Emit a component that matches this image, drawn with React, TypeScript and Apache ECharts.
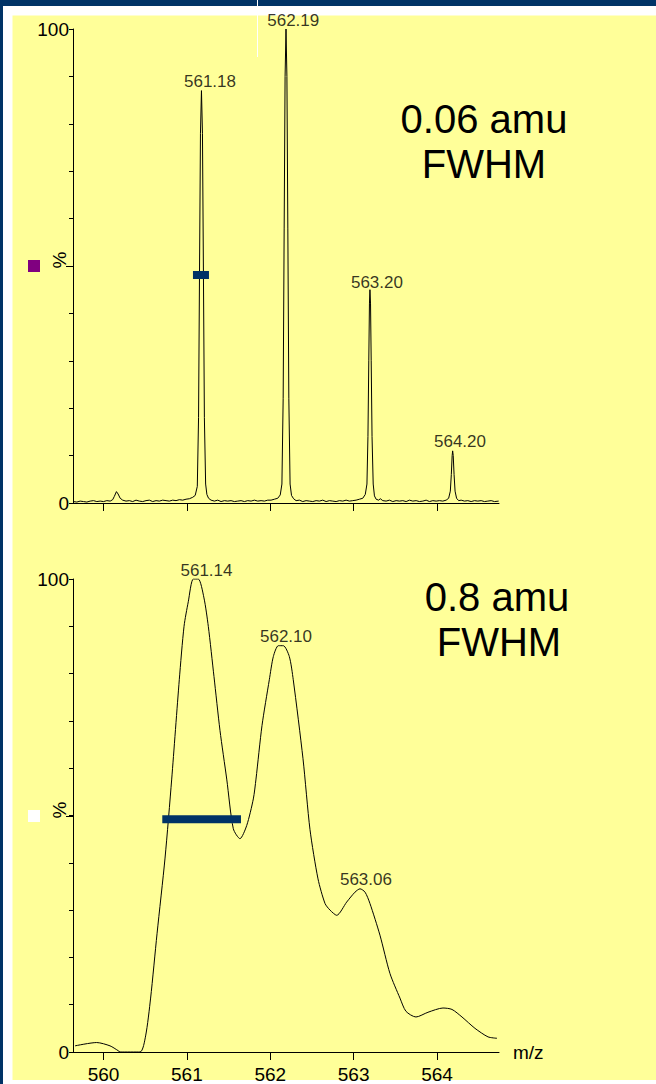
import React, { useEffect, useRef } from "react";
import * as echarts from "echarts";

// ---------- data ----------
const X_MIN = 559.634;
const X_MAX = 564.744;
const xTicks = [560, 561, 562, 563, 564];
const yLabelValues = [0, 100];

// high resolution spectrum (m/z, %)
const topSpectrum: [number, number][] = [
  [559.64, 0.3], [559.68, 0.2], [559.72, 0.4], [559.76, 0.3], [559.8, 0.2], [559.84, 0.4], [559.88, 0.5],
  [559.92, 0.3], [559.96, 0.4], [560.0, 0.3], [560.04, 0.5], [560.08, 0.4], [560.11, 0.7], [560.13, 1.4],
  [560.155, 2.4], [560.175, 1.9], [560.2, 1.0], [560.23, 0.6], [560.27, 0.4], [560.31, 0.5], [560.35, 0.3],
  [560.39, 0.6], [560.43, 0.4], [560.47, 0.3], [560.51, 0.5], [560.55, 0.6], [560.59, 0.3], [560.63, 0.5],
  [560.67, 0.4], [560.71, 0.6], [560.75, 0.5], [560.79, 0.4], [560.83, 0.6], [560.87, 0.5], [560.91, 0.7],
  [560.95, 0.6], [560.99, 0.8], [561.03, 0.9], [561.07, 1.2], [561.1, 1.6], [561.125, 3.5], [561.14, 18],
  [561.152, 50], [561.163, 78], [561.175, 87], [561.187, 78], [561.198, 50], [561.21, 18], [561.225, 4],
  [561.24, 1.8], [561.26, 1.0], [561.29, 0.6], [561.33, 0.4], [561.37, 0.6], [561.41, 0.3], [561.45, 0.5],
  [561.49, 0.4], [561.53, 0.5], [561.57, 0.3], [561.61, 0.4], [561.65, 0.5], [561.69, 0.3], [561.73, 0.5],
  [561.77, 0.4], [561.81, 0.6], [561.85, 0.4], [561.89, 0.5], [561.93, 0.4], [561.97, 0.6], [562.01, 0.6],
  [562.05, 0.8], [562.09, 1.0], [562.12, 1.7], [562.14, 4], [562.155, 22], [562.167, 58], [562.178, 90],
  [562.189, 100], [562.2, 90], [562.211, 58], [562.223, 22], [562.238, 4], [562.255, 1.6], [562.28, 0.9],
  [562.31, 0.5], [562.35, 0.6], [562.39, 0.3], [562.43, 0.5], [562.47, 0.4], [562.51, 0.3], [562.55, 0.5],
  [562.59, 0.4], [562.63, 0.6], [562.67, 0.3], [562.71, 0.5], [562.75, 0.4], [562.79, 0.3], [562.83, 0.5],
  [562.87, 0.4], [562.91, 0.6], [562.95, 0.4], [562.99, 0.5], [563.03, 0.6], [563.07, 0.8], [563.11, 1.0],
  [563.14, 1.8], [563.16, 4], [563.172, 14], [563.182, 30], [563.19, 42], [563.196, 45], [563.203, 42],
  [563.211, 30], [563.221, 14], [563.235, 4], [563.25, 1.5], [563.27, 0.8], [563.3, 0.6], [563.32, 0.9],
  [563.35, 0.5], [563.39, 0.4], [563.43, 0.6], [563.47, 0.3], [563.51, 0.5], [563.55, 0.4], [563.59, 0.5],
  [563.63, 0.3], [563.67, 0.6], [563.71, 0.4], [563.75, 0.5], [563.79, 0.3], [563.83, 0.4], [563.87, 0.6],
  [563.91, 0.3], [563.95, 0.5], [563.99, 0.4], [564.03, 0.5], [564.07, 0.4], [564.11, 0.6], [564.14, 1.0],
  [564.16, 2.5], [564.172, 6], [564.182, 10], [564.188, 11], [564.195, 10], [564.205, 6], [564.217, 2.5],
  [564.235, 1.0], [564.26, 0.5], [564.29, 0.6], [564.33, 0.4], [564.37, 0.5], [564.41, 0.3], [564.45, 0.5],
  [564.49, 0.4], [564.53, 0.5], [564.57, 0.3], [564.61, 0.4], [564.65, 0.5], [564.69, 0.3], [564.74, 0.4],
];

// low resolution spectrum (m/z, %)
const bottomSpectrum: [number, number][] = [
  [559.658, 1.3], [559.918, 2.0], [560.078, 1.3], [560.174, 0.3], [560.198, 0], [560.438, 0],
  [560.505, 3.4], [560.565, 11.4], [560.642, 25], [560.738, 41], [560.818, 57.7], [560.909, 78.7],
  [560.966, 90], [561.017, 95.2], [561.077, 100], [561.137, 100], [561.205, 96], [561.257, 90],
  [561.325, 79.4], [561.397, 68], [561.478, 57.7], [561.557, 47.2], [561.637, 45.1], [561.718, 47.9],
  [561.797, 53.5], [561.829, 57.7], [561.901, 69], [561.989, 78.7], [562.037, 83.6], [562.097, 85.9],
  [562.157, 85.9], [562.229, 83.6], [562.276, 78.7], [562.393, 62], [562.477, 47], [562.573, 36.6],
  [562.657, 31.4], [562.717, 30], [562.797, 28.9], [562.917, 31.7], [563.017, 33.8], [563.077, 34.5],
  [563.137, 33.8], [563.196, 31.4], [563.316, 24.7], [563.436, 16.6], [563.556, 11.4], [563.628, 8.6],
  [563.748, 7.4], [563.892, 8.4], [564.072, 9.3], [564.18, 9.0], [564.3, 7.4], [564.456, 5.0],
  [564.612, 3.2], [564.72, 2.9],
];

const topPeakLabels = [
  { name: "561.18", value: [561.277, 89.0] },
  { name: "562.19", value: [562.276, 101.7] },
  { name: "563.20", value: [563.28, 46.6] },
  { name: "564.20", value: [564.276, 12.9] },
];
const bottomPeakLabels = [
  { name: "561.14", value: [561.235, 101.8] },
  { name: "562.10", value: [562.189, 87.9] },
  { name: "563.06", value: [563.148, 36.4] },
];

const topFwhmBar: [number, number][] = [[561.073, 48.1], [561.265, 48.1]];
const bottomFwhmBar: [number, number][] = [[560.705, 49.2], [561.649, 49.2]];

const topTitle = ["0.06 amu", "FWHM"];
const bottomTitle = ["0.8 amu", "FWHM"];
const xAxisName = "m/z";
const yAxisName = "%";

// ---------- styling ----------
const FONT = "'Liberation Sans', Arial, Helvetica, sans-serif";
const NAVY = "#003366";
const YELLOW = "#ffff99";

function xAxis(gridIndex: number, showLabels: boolean) {
  return {
    type: "value",
    gridIndex,
    min: X_MIN,
    max: X_MAX,
    axisLine: { show: true, onZero: false, lineStyle: { color: "#000", width: 1 } },
    axisTick: { show: true, length: 8, customValues: xTicks, lineStyle: { color: "#000", width: 1 } },
    axisLabel: showLabels
      ? { show: true, customValues: xTicks, fontSize: 19, fontFamily: FONT, color: "#000", margin: 13 }
      : { show: false },
    splitLine: { show: false },
    name: showLabels ? xAxisName : "",
    nameLocation: "end",
    nameGap: 14,
    nameTextStyle: { fontSize: 19, fontFamily: FONT, color: "#000", padding: [6, 0, 0, 0] },
  };
}

function yAxis(gridIndex: number) {
  return {
    type: "value",
    gridIndex,
    min: 0,
    max: 100,
    interval: 10,
    axisLine: { show: true, lineStyle: { color: "#000", width: 1 } },
    axisTick: { show: true, length: 4, lineStyle: { color: "#000", width: 1 } },
    axisLabel: {
      show: true,
      customValues: yLabelValues,
      formatter: (v: number) => (yLabelValues.indexOf(v) >= 0 ? String(v) : ""),
      fontSize: 19,
      fontFamily: FONT,
      color: "#000",
      margin: 4,
    },
    splitLine: { show: false },
  };
}

function spectrumSeries(idx: number, data: [number, number][], smooth: number | boolean) {
  return {
    type: "line",
    xAxisIndex: idx,
    yAxisIndex: idx,
    data,
    showSymbol: false,
    symbol: "none",
    smooth,
    silent: true,
    lineStyle: { color: "#000", width: 1 },
    z: 3,
  };
}

function barSeries(idx: number, data: [number, number][]) {
  return {
    type: "line",
    xAxisIndex: idx,
    yAxisIndex: idx,
    data,
    showSymbol: false,
    symbol: "none",
    silent: true,
    lineStyle: { color: NAVY, width: 8, cap: "butt" },
    z: 6,
  };
}

function labelSeries(idx: number, data: any[]) {
  return {
    type: "scatter",
    xAxisIndex: idx,
    yAxisIndex: idx,
    data,
    symbolSize: 1,
    clip: false,
    silent: true,
    itemStyle: { color: "rgba(0,0,0,0)" },
    label: {
      show: true,
      position: "inside",
      formatter: "{b}",
      fontSize: 17,
      fontFamily: FONT,
      color: "#000",
    },
    z: 7,
  };
}

export default function App() {
  const ref = useRef<HTMLDivElement>(null);

  useEffect(() => {
    if (!ref.current) return;
    const chart = echarts.init(ref.current, undefined, { renderer: "svg" });
    const option: any = {
      animation: false,
      backgroundColor: NAVY,
      grid: [
        { left: 73, top: 29, width: 426, height: 474 },
        { left: 73, top: 579, width: 426, height: 475 },
      ],
      xAxis: [xAxis(0, false), xAxis(1, true)],
      yAxis: [yAxis(0), yAxis(1)],
      series: [
        spectrumSeries(0, topSpectrum, false),
        spectrumSeries(1, bottomSpectrum, 0.25),
        barSeries(0, topFwhmBar),
        barSeries(1, bottomFwhmBar),
        labelSeries(0, topPeakLabels),
        labelSeries(1, bottomPeakLabels),
      ],
      graphic: {
        elements: [
          { type: "rect", z: -20, silent: true, shape: { x: 3, y: 6, width: 653, height: 1078 }, style: { fill: "#ffffff" } },
          { type: "rect", z: -19, silent: true, shape: { x: 12.5, y: 15.5, width: 643.5, height: 1064.5 }, style: { fill: YELLOW } },
          { type: "line", z: -18, silent: true, shape: { x1: 257.5, y1: 0, x2: 257.5, y2: 57 }, style: { stroke: "#ffffff", lineWidth: 1 } },
          { type: "rect", z: 5, silent: true, shape: { x: 28, y: 260, width: 12, height: 12 }, style: { fill: "#800080" } },
          { type: "rect", z: 5, silent: true, shape: { x: 28, y: 810, width: 12, height: 12 }, style: { fill: "#ffffff" } },
          { type: "line", z: 5, silent: true, shape: { x1: 66, y1: 266.5, x2: 73, y2: 266.5 }, style: { stroke: "#000", lineWidth: 1 } },
          { type: "line", z: 5, silent: true, shape: { x1: 66, y1: 816.5, x2: 73, y2: 816.5 }, style: { stroke: "#000", lineWidth: 1 } },
          { type: "text", z: 5, silent: true, x: 59, y: 260, rotation: Math.PI / 2, style: { text: yAxisName, font: `19px ${FONT}`, fill: "#000", align: "center", verticalAlign: "middle" } },
          { type: "text", z: 5, silent: true, x: 59, y: 810, rotation: Math.PI / 2, style: { text: yAxisName, font: `19px ${FONT}`, fill: "#000", align: "center", verticalAlign: "middle" } },
          { type: "text", z: 5, silent: true, x: 484, y: 119, style: { text: topTitle[0], font: `40px ${FONT}`, fill: "#000", align: "center", verticalAlign: "middle" } },
          { type: "text", z: 5, silent: true, x: 484, y: 164, style: { text: topTitle[1], font: `40px ${FONT}`, fill: "#000", align: "center", verticalAlign: "middle" } },
          { type: "text", z: 5, silent: true, x: 497, y: 597, style: { text: bottomTitle[0], font: `40px ${FONT}`, fill: "#000", align: "center", verticalAlign: "middle" } },
          { type: "text", z: 5, silent: true, x: 499, y: 642, style: { text: bottomTitle[1], font: `40px ${FONT}`, fill: "#000", align: "center", verticalAlign: "middle" } },
        ],
      },
    };
    chart.setOption(option);
    return () => chart.dispose();
  }, []);

  return (
    <div
      ref={ref}
      style={{ position: "absolute", left: 0, top: 0, width: 656, height: 1084 }}
    />
  );
}
